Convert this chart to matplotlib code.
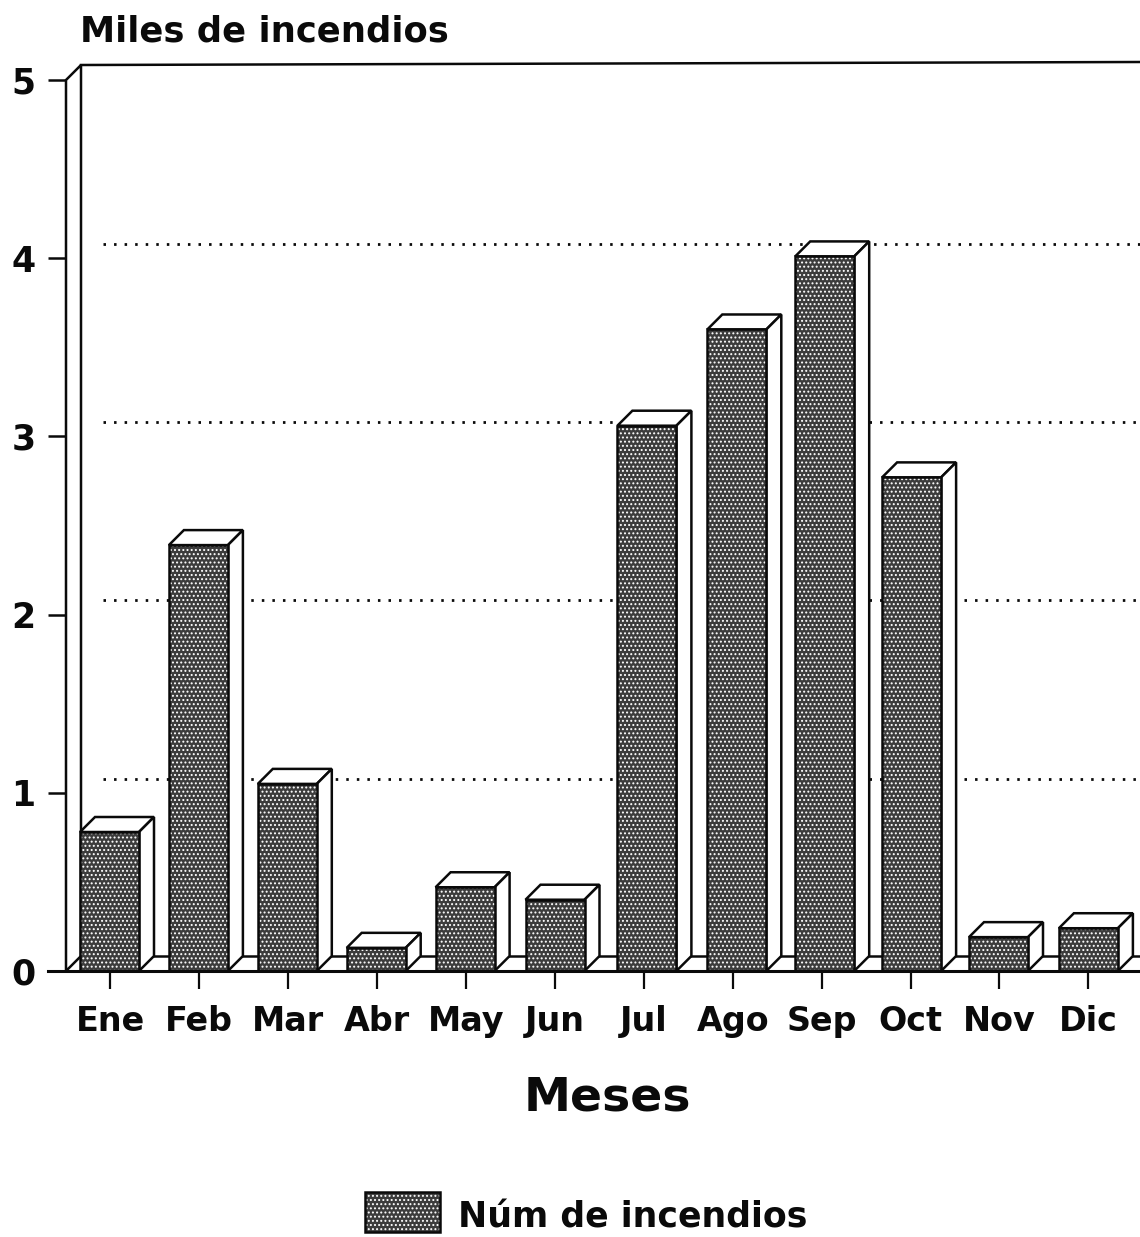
import matplotlib
matplotlib.use('Agg')
import matplotlib.pyplot as plt
from matplotlib.patches import Polygon, Rectangle

months = ['Ene','Feb','Mar','Abr','May','Jun','Jul','Ago','Sep','Oct','Nov','Dic']
values = [0.78,2.39,1.05,0.13,0.47,0.40,3.06,3.60,4.01,2.77,0.19,0.24]
yticks = [0,1,2,3,4,5]

W,H = 1140,1237
plt.rcParams['font.family']=['DejaVu Sans']
plt.rcParams['hatch.linewidth']=0.9
fig = plt.figure(figsize=(W/100,H/100),dpi=100,facecolor='white')
x0,x1=66,1140
y0,y5=971,80
slot=88.9
ax=fig.add_axes([x0/W,1-y0/H,(x1-x0)/W,(y0-y5)/H])
ax.set_xlim(0,(x1-x0)/slot)
ax.set_ylim(0,5)
for s in ax.spines.values(): s.set_visible(False)
ax.patch.set_alpha(0)
ux=1/slot; uy=5/(y0-y5)
dx=15*ux; dy=15*uy
C='#0a0a0a'
DARK='#3c3c3c'
HATCH='....'
LW=1.8
xend=(x1-x0)/slot
nudge=[0,0,0,0,0,1,4,5,4,2,0,1]
bw=59*ux
lefts=[i+14*ux+nudge[i]*ux for i in range(12)]
# back wall
ax.add_patch(Polygon([(0,0),(dx,dy),(dx,5+dy),(0,5)],closed=True,fc='white',ec=C,lw=LW,clip_on=False))
ax.plot([dx,xend],[5+dy,5+dy+3*uy],color=C,lw=LW,clip_on=False)
ax.plot([-18*ux,xend],[0,0],color=C,lw=2.2,clip_on=False,zorder=6)
ax.plot([dx,xend],[dy,dy],color=C,lw=LW,clip_on=False,zorder=1)
# gridlines
dots=(0,(0.9,2.9))
start=dx+0.25
jul_left=lefts[6]
sep_right=lefts[8]+bw+dx
for v in yticks[1:-1]:
    y=v+dy*0.95
    if v<=3:
        ax.plot([start,jul_left],[y,y],color=C,lw=2.0,ls=dots,clip_on=False,zorder=1)
        ax.plot([sep_right,xend],[y,y],color=C,lw=2.0,ls=dots,clip_on=False,zorder=1)
    else:
        ax.plot([start,xend],[y,y],color=C,lw=2.0,ls=dots,clip_on=False,zorder=1)
# bars
for i,v in enumerate(values):
    l=lefts[i]
    r=l+bw
    ax.add_patch(Polygon([(l,v),(l+dx,v+dy),(r+dx,v+dy),(r,v)],closed=True,fc='white',ec=C,lw=LW,zorder=3))
    ax.add_patch(Polygon([(r,0),(r+dx,dy),(r+dx,v+dy),(r,v)],closed=True,fc='white',ec=C,lw=LW,zorder=3,clip_on=False))
    ax.bar(l,v,width=bw,align='edge',color=DARK,edgecolor='white',lw=0,zorder=4,hatch=HATCH)
    ax.bar(l,v,width=bw,align='edge',fill=False,edgecolor=C,lw=LW,zorder=5)
# ticks
ax.set_xticks([i+0.5 for i in range(12)])
ax.set_xticklabels(months,fontweight='bold',fontsize=24,color=C)
ax.set_yticks(yticks)
ax.set_yticklabels(yticks,fontweight='bold',fontsize=25,color=C)
ax.tick_params(axis='x',length=13,width=1.6,direction='out',pad=11.5,color=C)
ax.tick_params(axis='y',length=13,width=1.8,direction='out',pad=9,color=C)
fig.text(80/W,1-31/H,'Miles de incendios',fontsize=25.5,fontweight='bold',va='center',ha='left',color=C)
fig.text(607/W,1-1098/H,'Meses',fontsize=34,fontweight='bold',va='center',ha='center',color=C)
fig.add_artist(Rectangle((365/W,1-1232/H),75/W,40/H,transform=fig.transFigure,fc=DARK,ec='white',lw=0,hatch=HATCH))
fig.add_artist(Rectangle((365/W,1-1232/H),75/W,40/H,transform=fig.transFigure,fill=False,ec=C,lw=LW))
fig.text(458/W,1-1218/H,'Núm de incendios',fontsize=25,fontweight='bold',va='center',ha='left',color=C)
fig.savefig('out.png',dpi=100)
